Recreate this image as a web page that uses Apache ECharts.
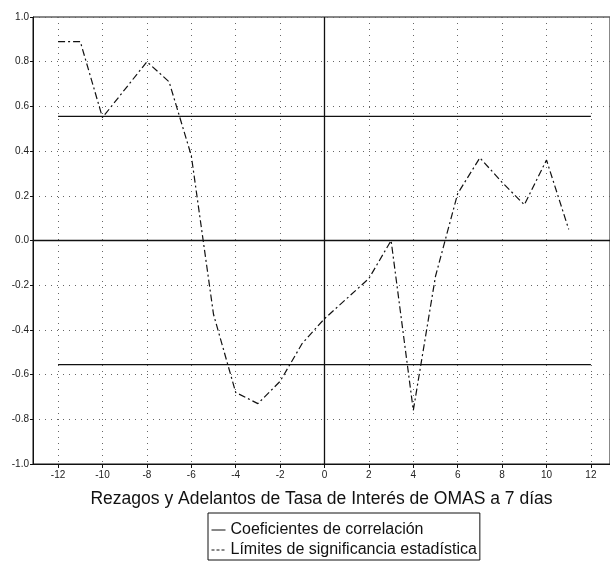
<!DOCTYPE html>
<html>
<head>
<meta charset="utf-8">
<script src="https://cdn.jsdelivr.net/npm/echarts@6/dist/echarts.min.js"></script>
<style>
html,body{margin:0;padding:0;background:#fff;}
#chart{width:610px;height:566px;}
</style>
</head>
<body>
<div id="chart"></div>
<script>
// Lags/leads of the 7-day OMAS interest rate
const lags = [-12,-11,-10,-9,-8,-7,-6,-5,-4,-3,-2,-1,0,1,2,3,4,5,6,7,8,9,10,11];
const corr = [0.89,0.89,0.55,0.675,0.80,0.71,0.38,-0.33,-0.68,-0.73,-0.63,-0.46,-0.35,-0.26,-0.17,0.00,-0.76,-0.16,0.21,0.37,0.26,0.16,0.36,0.05];
const limitRange = [-12, 12];
const limitValue = 0.555;
const xTicks = [-12,-10,-8,-6,-4,-2,0,2,4,6,8,10,12];
const yTicks = [-1.0,-0.8,-0.6,-0.4,-0.2,0.0,0.2,0.4,0.6,0.8,1.0];
const xTitle = 'Rezagos y Adelantos de Tasa de Interés de OMAS a 7 días';
const nameCorr = 'Coeficientes de correlación';
const nameLim = 'Límites de significancia estadística';

const chart = echarts.init(document.getElementById('chart'));
const FONT = '"Liberation Sans", Arial, sans-serif';
const gridLine = {show:true, lineStyle:{color:'#666', width:1, type:[1,5]}};

chart.setOption({
  animation:false,
  backgroundColor:'#fff',
  textStyle:{fontFamily:FONT},
  grid:{left:33, right:0, top:17, bottom:102, show:true, borderColor:'#111', borderWidth:1, backgroundColor:'transparent'},
  legend:{
    show:true,
    orient:'vertical', left:208, top:513,
    padding:[9,3,2,3], itemGap:4, itemWidth:14, itemHeight:18,
    borderColor:'#111', borderWidth:1,
    textStyle:{fontFamily:FONT, fontSize:16, color:'#111'},
    data:[
      {name:nameCorr, itemStyle:{opacity:0}, lineStyle:{type:'solid', color:'#111', width:1}},
      {name:nameLim, itemStyle:{opacity:0}, lineStyle:{type:[3,2], color:'#111', width:1}}
    ]
  },
  xAxis:{
    type:'value', min:-13.13, max:12.86,
    name:xTitle, nameLocation:'middle', nameGap:26,
    nameTextStyle:{fontFamily:FONT, fontSize:17.5, color:'#111'},
    axisLine:{show:true, onZero:false, lineStyle:{color:'#111', width:1}},
    axisTick:{show:true, length:4, customValues:xTicks, lineStyle:{color:'#111'}},
    axisLabel:{customValues:xTicks, fontSize:10, color:'#222', margin:6, formatter:v=>String(Math.round(v))},
    splitLine:gridLine
  },
  yAxis:{
    type:'value', min:-1, max:1, interval:0.2,
    axisLine:{show:true, onZero:false, lineStyle:{color:'#111', width:1}},
    axisTick:{show:true, length:3, customValues:yTicks, lineStyle:{color:'#111'}},
    axisLabel:{customValues:yTicks, fontSize:10, color:'#222', margin:4, formatter:v=>v.toFixed(1)},
    splitLine:gridLine
  },
  series:[
    {
      name:'zeroH', type:'line', silent:true, symbol:'none',
      data:[[-13.13,0],[12.86,0]],
      lineStyle:{color:'#111', width:1.3}, z:1
    },
    {
      name:'zeroV', type:'line', silent:true, symbol:'none',
      data:[[0,-1],[0,1]],
      lineStyle:{color:'#111', width:1.3}, z:1
    },
    {
      name:nameLim, type:'line', symbol:'none', itemStyle:{color:'#111'},
      data:limitRange.map(x=>[x, limitValue]),
      lineStyle:{color:'#111', width:1.2, type:'solid'}, z:2
    },
    {
      name:nameLim, type:'line', symbol:'none', itemStyle:{color:'#111'},
      data:limitRange.map(x=>[x, -limitValue]),
      lineStyle:{color:'#111', width:1.2, type:'solid'}, z:2
    },
    {
      name:nameCorr, type:'line', symbol:'none', itemStyle:{color:'#111'},
      data:lags.map((x,i)=>[x, corr[i]]),
      lineStyle:{color:'#111', width:1.2, type:[7,3,2,3]}, z:3
    }
  ]
});
</script>
</body>
</html>
